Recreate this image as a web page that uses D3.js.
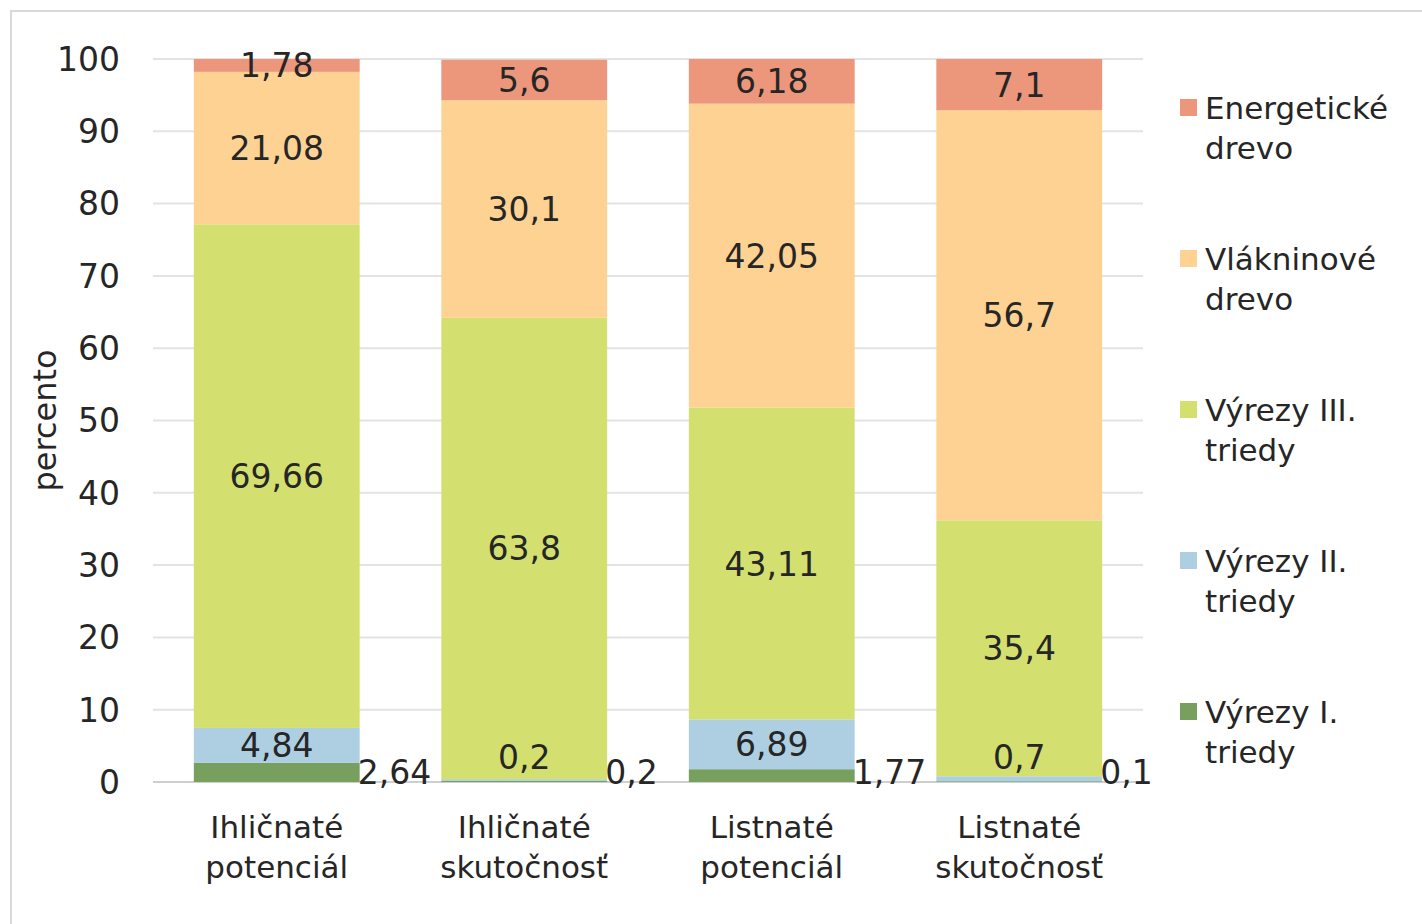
<!DOCTYPE html>
<html>
<head>
<meta charset="utf-8">
<script src="https://cdn.jsdelivr.net/npm/d3@7"></script>
<style>
  body { margin: 0; background: #fff; }
  text { font-family: "DejaVu Sans", sans-serif; fill: #262626; }
</style>
</head>
<body>
<svg width="1422" height="924"></svg>
<script>
// categories (two-line labels)
var categories = ["Ihličnaté potenciál", "Ihličnaté skutočnosť", "Listnaté potenciál", "Listnaté skutočnosť"];
var catLines = [["Ihličnaté", "potenciál"], ["Ihličnaté", "skutočnosť"], ["Listnaté", "potenciál"], ["Listnaté", "skutočnosť"]];

// series, bottom to top
var seriesNames = ["Výrezy I. triedy", "Výrezy II. triedy", "Výrezy III. triedy", "Vlákninové drevo", "Energetické drevo"];
var vyrezyI   = [2.64, 0.2, 1.77, 0.1];
var vyrezyII  = [4.84, 0.2, 6.89, 0.7];
var vyrezyIII = [69.66, 63.8, 43.11, 35.4];
var vlakninove = [21.08, 30.1, 42.05, 56.7];
var energeticke = [1.78, 5.6, 6.18, 7.1];
var yTicks = [0, 10, 20, 30, 40, 50, 60, 70, 80, 90, 100];

var seriesColors = ["#77a05e", "#aecfe2", "#d3e06f", "#fdd293", "#ec977b"];
var legendLines = [["Energetické", "drevo"], ["Vlákninové", "drevo"], ["Výrezy III.", "triedy"], ["Výrezy II.", "triedy"], ["Výrezy I.", "triedy"]];

var svg = d3.select("svg");

// chart border
svg.append("rect")
    .attr("x", 11).attr("y", 11)
    .attr("width", 1430).attr("height", 930)
    .attr("fill", "none")
    .attr("stroke", "#d9d9d9")
    .attr("stroke-width", 2);

var plotLeft = 153, plotRight = 1143, plotTop = 59, plotBottom = 782;

var rows = categories.map(function(c, i) {
  return { cat: c, s0: vyrezyI[i], s1: vyrezyII[i], s2: vyrezyIII[i], s3: vlakninove[i], s4: energeticke[i] };
});
var keys = ["s0", "s1", "s2", "s3", "s4"];
var stacked = d3.stack().keys(keys)(rows);

var x = d3.scaleBand().domain(categories).range([plotLeft, plotRight]).paddingInner(0.33).paddingOuter(0.165);
var y = d3.scaleLinear().domain([0, 100]).range([plotBottom, plotTop]);

// gridlines
svg.append("g").selectAll("line")
    .data(yTicks).enter().append("line")
    .attr("x1", plotLeft).attr("x2", plotRight)
    .attr("y1", function(d) { return y(d); })
    .attr("y2", function(d) { return y(d); })
    .attr("stroke", function(d) { return d === 0 ? "#cfcfcf" : "#e3e3e3"; })
    .attr("stroke-width", 2);

// y tick labels
svg.append("g").selectAll("text")
    .data(yTicks).enter().append("text")
    .attr("x", 120)
    .attr("y", function(d) { return y(d); })
    .attr("dy", "0.36em")
    .attr("text-anchor", "end")
    .attr("font-size", 33)
    .text(function(d) { return d; });

// y axis title
svg.append("text")
    .attr("transform", "translate(56," + ((plotTop + plotBottom) / 2) + ") rotate(-90)")
    .attr("text-anchor", "middle")
    .attr("font-size", 32)
    .text("percento");

// bars
var layers = svg.append("g").selectAll("g")
    .data(stacked).enter().append("g")
    .attr("fill", function(d, i) { return seriesColors[i]; });

layers.selectAll("rect")
    .data(function(d) { return d; }).enter().append("rect")
    .attr("x", function(d) { return x(d.data.cat); })
    .attr("width", x.bandwidth())
    .attr("y", function(d) { return y(d[1]); })
    .attr("height", function(d) { return y(d[0]) - y(d[1]); });

// data labels
var fmt = function(v) { return String(v).replace(".", ","); };
stacked.forEach(function(layer, si) {
  svg.append("g").selectAll("text")
      .data(layer).enter().append("text")
      .attr("font-size", 33)
      .attr("text-anchor", si === 0 ? "start" : "middle")
      .attr("x", function(d) {
        return si === 0 ? x(d.data.cat) + x.bandwidth() - 2 : x(d.data.cat) + x.bandwidth() / 2;
      })
      .attr("y", function(d) {
        if (si === 0) return y(0) + 2;
        var c = y((d[0] + d[1]) / 2) + 12;
        return si === 1 ? Math.min(c, y(0) - 13) : c;
      })
      .text(function(d) { return fmt(d.data[keys[si]]); });
});

// category labels
var cat = svg.append("g").selectAll("text")
    .data(categories).enter().append("text")
    .attr("x", function(d) { return x(d) + x.bandwidth() / 2; })
    .attr("y", 838)
    .attr("text-anchor", "middle")
    .attr("font-size", 31);
cat.each(function(d, i) {
  var t = d3.select(this);
  catLines[i].forEach(function(line, j) {
    t.append("tspan").attr("x", x(d) + x.bandwidth() / 2).attr("dy", j === 0 ? 0 : 40).text(line);
  });
});

// legend (top to bottom: reverse of stack order)
var legend = svg.append("g").selectAll("g")
    .data(legendLines).enter().append("g")
    .attr("transform", function(d, i) { return "translate(1180," + (99 + i * 151) + ")"; });
legend.append("rect")
    .attr("width", 17).attr("height", 17)
    .attr("fill", function(d, i) { return seriesColors[4 - i]; });
legend.append("text")
    .attr("x", 25).attr("y", 20)
    .attr("font-size", 31)
    .each(function(d) {
      var t = d3.select(this);
      d.forEach(function(line, j) {
        t.append("tspan").attr("x", 25).attr("dy", j === 0 ? 0 : 40).text(line);
      });
    });
</script>
</body>
</html>
